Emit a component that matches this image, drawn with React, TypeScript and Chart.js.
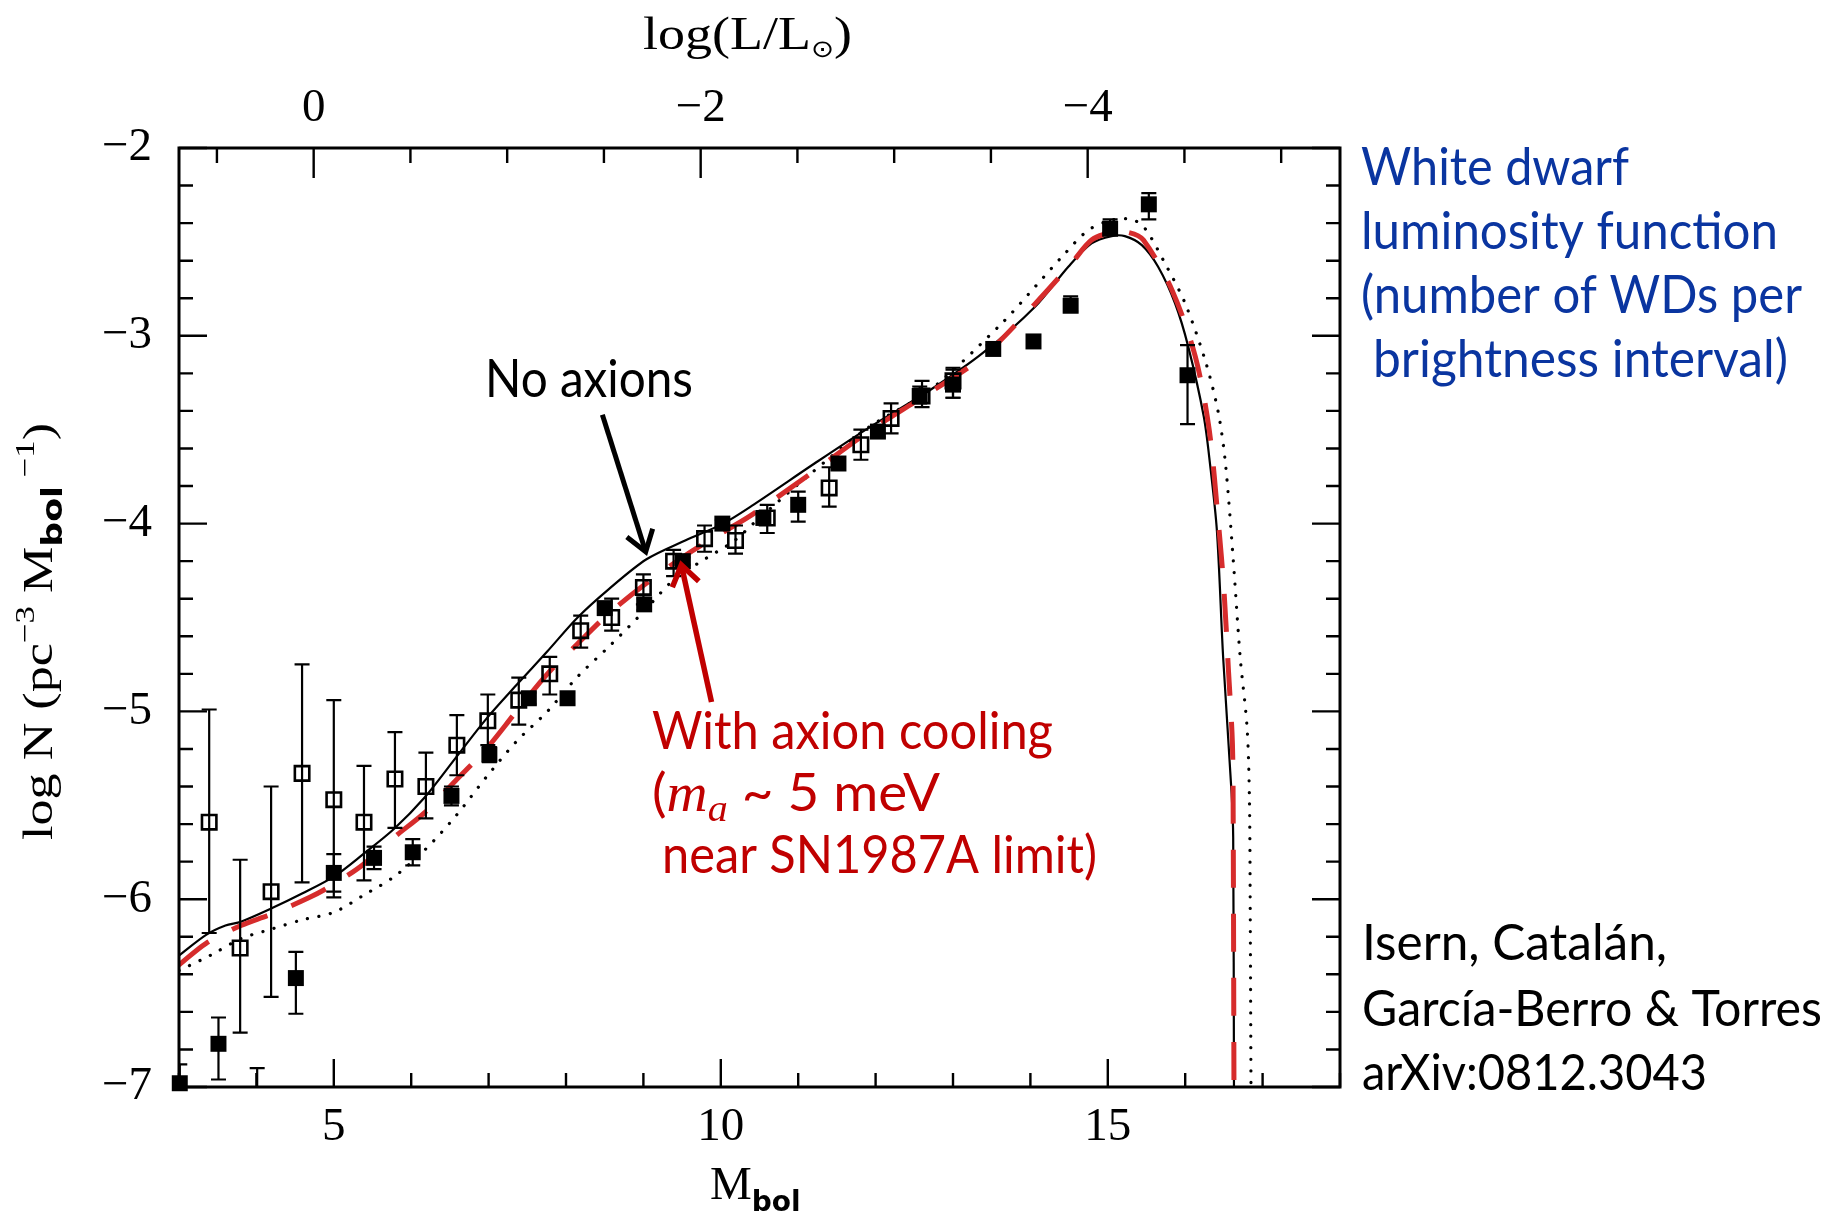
import React, { useEffect, useRef } from 'react';
import { Chart, registerables } from 'chart.js';

Chart.register(...registerables);

// ---------------- data ----------------
// Filled squares (observed WDLF)
const filledM = [3.01, 3.51, 4.01, 4.51, 5.0, 5.52, 6.02, 6.52, 7.01, 7.52, 8.02, 8.5, 9.01, 9.51, 10.02, 10.55, 11.0, 11.52, 12.03, 12.57, 13.0, 13.52, 14.04, 14.52, 15.03, 15.53, 16.03];
const filledLogN = [-6.98, -6.77, -7.15, -6.42, -5.86, -5.78, -5.75, -5.45, -5.23, -4.93, -4.93, -4.45, -4.43, -4.2, -4.0, -3.97, -3.9, -3.68, -3.51, -3.32, -3.26, -3.07, -3.03, -2.84, -2.43, -2.3, -3.21];
const filledErrHi = [-6.88, -6.63, -6.9, -6.28, -5.76, -5.72, -5.68, -5.4, -5.19, -4.9, -4.9, -4.42, -4.4, -4.18, -3.98, -3.95, -3.83, -3.65, -3.48, -3.27, -3.18, -3.05, -3.01, -2.79, -2.38, -2.24, -3.05];
const filledErrLo = [-7.08, -6.96, -7.4, -6.61, -5.96, -5.84, -5.82, -5.5, -5.27, -4.96, -4.96, -4.48, -4.46, -4.22, -4.02, -4.0, -3.99, -3.71, -3.54, -3.36, -3.33, -3.09, -3.05, -2.87, -2.45, -2.38, -3.47];

// Open squares
const openM = [3.39, 3.79, 4.19, 4.59, 5.0, 5.39, 5.79, 6.19, 6.59, 6.99, 7.39, 7.79, 8.19, 8.59, 9.0, 9.39, 9.79, 10.19, 10.6, 11.4, 11.81, 12.2, 12.6, 13.0];
const openLogN = [-5.59, -6.26, -5.96, -5.33, -5.47, -5.59, -5.36, -5.4, -5.18, -5.05, -4.94, -4.8, -4.57, -4.5, -4.34, -4.2, -4.08, -4.09, -3.97, -3.81, -3.58, -3.44, -3.32, -3.24];
const openErrHi = [-4.99, -5.79, -5.4, -4.75, -4.94, -5.29, -5.11, -5.22, -5.02, -4.91, -4.82, -4.71, -4.49, -4.4, -4.27, -4.14, -4.01, -4.01, -3.9, -3.7, -3.5, -3.36, -3.24, -3.17];
const openErrLo = [-6.18, -6.71, -6.52, -5.91, -5.99, -5.9, -5.62, -5.57, -5.34, -5.18, -5.07, -4.91, -4.66, -4.57, -4.43, -4.28, -4.15, -4.16, -4.05, -3.91, -3.66, -3.52, -3.38, -3.33];

// Model: no axions (solid)
const noAxionM = [3.0, 3.35, 3.6, 3.8, 4.19, 4.59, 5.0, 5.38, 5.78, 6.17, 6.57, 6.97, 7.36, 7.76, 8.15, 8.55, 9.04, 9.54, 10.03, 10.42, 11.21, 11.91, 12.7, 13.39, 14.06, 14.49, 14.79, 15.05, 15.22, 15.44, 15.65, 15.87, 16.04, 16.24, 16.32, 16.41, 16.49, 16.6, 16.62, 16.63];
const noAxionLogN = [-6.3, -6.19, -6.14, -6.12, -6.05, -5.97, -5.88, -5.76, -5.625, -5.46, -5.25, -5.04, -4.86, -4.68, -4.5, -4.35, -4.19, -4.09, -4.0, -3.9, -3.68, -3.49, -3.29, -3.09, -2.845, -2.632, -2.508, -2.469, -2.469, -2.517, -2.632, -2.828, -3.059, -3.43, -3.68, -4.04, -4.71, -5.44, -5.67, -7.0];

// Model: with axion cooling (red dashed)
const axionM = [3.0, 3.35, 3.8, 4.19, 4.69, 5.0, 5.38, 5.78, 6.17, 6.57, 6.97, 7.36, 7.76, 8.15, 8.55, 9.0, 9.54, 10.03, 10.42, 11.16, 11.91, 12.65, 13.39, 14.06, 14.53, 14.79, 15.05, 15.27, 15.46, 15.83, 16.13, 16.31, 16.43, 16.5, 16.56, 16.61, 16.62, 16.63];
const axionLogN = [-6.35, -6.235, -6.14, -6.08, -5.99, -5.92, -5.815, -5.67, -5.54, -5.37, -5.2, -5.0, -4.8, -4.64, -4.48, -4.33, -4.17, -4.046, -3.948, -3.734, -3.51, -3.315, -3.11, -2.83, -2.615, -2.49, -2.45, -2.45, -2.49, -2.757, -3.11, -3.5, -4.0, -4.35, -4.79, -5.17, -5.57, -7.0];

// Model: dotted
const dottedM = [3.0, 3.4, 3.8, 4.19, 4.59, 5.0, 5.38, 5.78, 6.17, 6.57, 6.97, 7.36, 7.76, 8.15, 8.55, 9.0, 9.39, 9.79, 10.18, 10.42, 11.11, 11.9, 12.7, 13.63, 14.06, 14.45, 14.75, 15.05, 15.31, 15.48, 15.74, 16.0, 16.27, 16.43, 16.52, 16.62, 16.71, 16.8, 16.83, 16.84, 16.85];
const dottedLogN = [-6.38, -6.3, -6.21, -6.16, -6.11, -6.07, -5.98, -5.88, -5.74, -5.56, -5.35, -5.16, -5.0, -4.815, -4.657, -4.47, -4.3, -4.19, -4.09, -4.0, -3.752, -3.49, -3.29, -2.934, -2.739, -2.56, -2.437, -2.384, -2.38, -2.428, -2.615, -2.828, -3.147, -3.414, -3.68, -4.19, -4.71, -5.09, -5.47, -6.05, -7.0];

// Axes ticks
const bottomTickValues = [3, 4, 5, 6, 7, 8, 9, 10, 11, 12, 13, 14, 15, 16, 17, 18];
const bottomLabelValues = [5, 10, 15];
const topTickLogL = [0.5, 0, -0.5, -1, -1.5, -2, -2.5, -3, -3.5, -4, -4.5, -5];
const topLabelLogL = [0, -2, -4];
const yTickValues = [-7, -6.8, -6.6, -6.4, -6.2, -6, -5.8, -5.6, -5.4, -5.2, -5, -4.8, -4.6, -4.4, -4.2, -4, -3.8, -3.6, -3.4, -3.2, -3, -2.8, -2.6, -2.4, -2.2, -2];
const yLabelValues = [-7, -6, -5, -4, -3, -2];
const MBOL_SUN = 4.74;

// ---------------- layout / style ----------------
const W = 1843;
const H = 1214;
const PLOT_LEFT = 179;
const PLOT_RIGHT = 1340;
const PLOT_TOP = 148;
const PLOT_BOTTOM = 1087;

const SERIF = '"Liberation Serif", "DejaVu Serif", serif';
const SANS = 'Lato, "Open Sans", "Noto Sans", sans-serif';
const RED_TEXT = '#c00000';
const BLUE_TEXT = '#0a35a0';
const RED_LINE = 'rgb(214, 44, 44)';

const fmt = (v: number) => {
  const r = Math.round(v * 100) / 100;
  if (Math.abs(r) < 1e-9) return '0';
  return r < 0 ? '\u2212' + String(Math.abs(r)) : String(r);
};
const near = (a: number, b: number) => Math.abs(a - b) < 1e-6;
const pts = (xs: number[], ys: number[]) => xs.map((x, i) => ({ x, y: ys[i] }));

type Seg = { t: string; font: string; dy?: number };

function drawSegs(ctx: CanvasRenderingContext2D, segs: Seg[], x: number, y: number, color: string, width?: number) {
  ctx.save();
  ctx.fillStyle = color;
  ctx.textBaseline = 'alphabetic';
  ctx.textAlign = 'left';
  let total = 0;
  const ws = segs.map((s) => {
    ctx.font = s.font;
    const w = ctx.measureText(s.t).width;
    total += w;
    return w;
  });
  const k = width ? width / total : 1;
  ctx.translate(x, y);
  ctx.scale(k, 1);
  let cx = 0;
  segs.forEach((s, i) => {
    ctx.font = s.font;
    ctx.fillText(s.t, cx, s.dy || 0);
    cx += ws[i];
  });
  ctx.restore();
  return total * k;
}

function arrow(ctx: CanvasRenderingContext2D, x1: number, y1: number, x2: number, y2: number, color: string, lw: number, head: number) {
  const a = Math.atan2(y2 - y1, x2 - x1);
  ctx.save();
  ctx.strokeStyle = color;
  ctx.lineWidth = lw;
  ctx.lineCap = 'butt';
  ctx.beginPath();
  ctx.moveTo(x1, y1);
  ctx.lineTo(x2 - Math.cos(a) * lw * 0.8, y2 - Math.sin(a) * lw * 0.8);
  ctx.stroke();
  ctx.lineJoin = 'miter';
  ctx.beginPath();
  ctx.moveTo(x2 - head * Math.cos(a - 0.6), y2 - head * Math.sin(a - 0.6));
  ctx.lineTo(x2, y2);
  ctx.lineTo(x2 - head * Math.cos(a + 0.6), y2 - head * Math.sin(a + 0.6));
  ctx.stroke();
  ctx.restore();
}

const errorBarPlugin = {
  id: 'errorBars',
  afterDatasetsDraw(chart: any) {
    const { ctx, chartArea } = chart;
    const xs = chart.scales.x;
    const ys = chart.scales.y;
    ctx.save();
    ctx.beginPath();
    ctx.rect(chartArea.left, chartArea.top, chartArea.right - chartArea.left, chartArea.bottom - chartArea.top);
    ctx.clip();
    ctx.strokeStyle = '#000';
    ctx.lineWidth = 2.2;
    chart.data.datasets.forEach((ds: any) => {
      const hi = ds.errHi;
      const lo = ds.errLo;
      if (!hi || !lo) return;
      ds.data.forEach((p: any, i: number) => {
        const px = xs.getPixelForValue(p.x);
        const ph = ys.getPixelForValue(hi[i]);
        const pl = ys.getPixelForValue(lo[i]);
        const cap = 7.5;
        ctx.beginPath();
        ctx.moveTo(px, ph);
        ctx.lineTo(px, pl);
        ctx.moveTo(px - cap, ph);
        ctx.lineTo(px + cap, ph);
        ctx.moveTo(px - cap, pl);
        ctx.lineTo(px + cap, pl);
        ctx.stroke();
      });
    });
    ctx.restore();
  },
};

const framePlugin = {
  id: 'frameTicks',
  afterDraw(chart: any) {
    const { ctx, chartArea } = chart;
    const { left, right, top, bottom } = chartArea;
    const s = chart.scales;
    ctx.save();
    ctx.strokeStyle = '#000';
    ctx.lineWidth = 2.4;
    ctx.beginPath();
    s.x.ticks.forEach((t: any) => {
      const px = s.x.getPixelForValue(t.value);
      const len = bottomLabelValues.some((v) => near(v, t.value)) ? 28 : 14;
      ctx.moveTo(px, bottom);
      ctx.lineTo(px, bottom - len);
    });
    s.x2.ticks.forEach((t: any) => {
      const px = s.x2.getPixelForValue(t.value);
      const L = (MBOL_SUN - t.value) / 2.5;
      const len = topLabelLogL.some((v) => near(v, L)) ? 30 : 15;
      ctx.moveTo(px, top);
      ctx.lineTo(px, top + len);
    });
    s.y.ticks.forEach((t: any) => {
      const py = s.y.getPixelForValue(t.value);
      const len = yLabelValues.some((v) => near(v, t.value)) ? 28 : 14;
      ctx.moveTo(left, py);
      ctx.lineTo(left + len, py);
    });
    s.y2.ticks.forEach((t: any) => {
      const py = s.y2.getPixelForValue(t.value);
      const len = yLabelValues.some((v) => near(v, t.value)) ? 28 : 14;
      ctx.moveTo(right, py);
      ctx.lineTo(right - len, py);
    });
    ctx.stroke();
    ctx.lineWidth = 3;
    ctx.strokeRect(left, top, right - left, bottom - top);
    ctx.restore();
  },
};

const annotationPlugin = {
  id: 'annotations',
  afterDraw(chart: any) {
    const { ctx } = chart;
    const xs = chart.scales.x;
    const ys = chart.scales.y;

    const bolFont = 'bold 28px "DejaVu Sans", sans-serif';
    // y title (rotated)
    ctx.save();
    ctx.translate(52, 632);
    ctx.rotate(-Math.PI / 2);
    const ySegs: Seg[] = [
      { t: 'log N (pc', font: `42px ${SERIF}` },
      { t: '\u22123', font: `28px ${SERIF}`, dy: -18 },
      { t: ' M', font: `42px ${SERIF}` },
      { t: 'bol', font: bolFont, dy: 10 },
      { t: ' \u22121', font: `28px ${SERIF}`, dy: -18 },
      { t: ')', font: `42px ${SERIF}` },
    ];
    drawSegs(ctx, ySegs, -208, 0, '#000', 417);
    ctx.restore();

    // x title
    drawSegs(ctx, [
      { t: 'M', font: `47px ${SERIF}` },
      { t: 'bol', font: bolFont, dy: 12 },
    ], 710, 1199, '#000');

    // top title
    drawSegs(ctx, [
      { t: 'log(L/L', font: `47px ${SERIF}` },
      { t: '\u2299', font: `24px "DejaVu Sans", sans-serif`, dy: 8 },
      { t: ')', font: `47px ${SERIF}` },
    ], 643, 49, '#000', 209);

    // arrows
    arrow(ctx, xs.getPixelForValue(8.47), ys.getPixelForValue(-3.42), xs.getPixelForValue(9.03), ys.getPixelForValue(-4.15), '#000', 5, 24);
    arrow(ctx, xs.getPixelForValue(9.88), ys.getPixelForValue(-4.95), xs.getPixelForValue(9.49), ys.getPixelForValue(-4.22), RED_TEXT, 5.5, 24);

    const f52 = `52px ${SANS}`;
    drawSegs(ctx, [{ t: 'No axions', font: f52 }], 485, 397, '#000', 208);

    drawSegs(ctx, [{ t: 'With axion cooling', font: f52 }], 652, 749, RED_TEXT, 401);
    drawSegs(ctx, [
      { t: '(', font: f52 },
      { t: 'm', font: `italic 54px ${SERIF}` },
      { t: 'a', font: `italic 38px ${SERIF}`, dy: 10 },
      { t: ' ~ 5 meV', font: f52 },
    ], 652, 811, RED_TEXT, 288);
    drawSegs(ctx, [{ t: 'near SN1987A limit)', font: f52 }], 662, 873, RED_TEXT, 435);

    drawSegs(ctx, [{ t: 'White dwarf', font: f52 }], 1361, 185, BLUE_TEXT, 268);
    drawSegs(ctx, [{ t: 'luminosity function', font: f52 }], 1361, 249, BLUE_TEXT, 417);
    drawSegs(ctx, [{ t: '(number of WDs per', font: f52 }], 1361, 313, BLUE_TEXT, 441);
    drawSegs(ctx, [{ t: 'brightness interval)', font: f52 }], 1373, 377, BLUE_TEXT, 415);

    const f50 = `50px ${SANS}`;
    drawSegs(ctx, [{ t: 'Isern, Catalán,', font: f50 }], 1362, 960, '#000', 305);
    drawSegs(ctx, [{ t: 'García-Berro & Torres', font: f50 }], 1362, 1026, '#000', 460);
    drawSegs(ctx, [{ t: 'arXiv:0812.3043', font: f50 }], 1362, 1090, '#000', 345);
  },
};

export default function App() {
  const ref = useRef<HTMLCanvasElement>(null);

  useEffect(() => {
    const canvas = ref.current;
    if (!canvas) return;
    const tickFont = { family: SERIF, size: 47 };
    const chart = new Chart(canvas, {
      type: 'scatter',
      data: {
        datasets: [
          {
            label: 'Observed (filled)',
            data: pts(filledM, filledLogN),
            showLine: false,
            pointStyle: 'rect',
            pointRadius: 11.3,
            backgroundColor: '#000',
            borderColor: '#000',
            borderWidth: 0,
            clip: 10,
            errHi: filledErrHi,
            errLo: filledErrLo,
          } as any,
          {
            label: 'Observed (open)',
            data: pts(openM, openLogN),
            showLine: false,
            pointStyle: 'rect',
            pointRadius: 10.2,
            backgroundColor: 'rgba(0,0,0,0)',
            borderColor: '#000',
            borderWidth: 2.6,
            clip: 10,
            errHi: openErrHi,
            errLo: openErrLo,
          } as any,
          {
            type: 'line',
            label: 'With axion cooling',
            data: pts(axionM, axionLogN),
            borderColor: RED_LINE,
            borderWidth: 5,
            borderDash: [38, 26],
            pointRadius: 0,
            tension: 0.3,
            fill: false,
          } as any,
          {
            type: 'line',
            label: 'No axions',
            data: pts(noAxionM, noAxionLogN),
            borderColor: '#000',
            borderWidth: 2.2,
            pointRadius: 0,
            tension: 0.3,
            fill: false,
          } as any,
          {
            type: 'line',
            label: 'Dotted model',
            data: pts(dottedM, dottedLogN),
            borderColor: '#000',
            borderWidth: 3.2,
            borderDash: [0.1, 11.5],
            borderCapStyle: 'round',
            pointRadius: 0,
            tension: 0.3,
            fill: false,
          } as any,
        ],
      },
      options: {
        responsive: false,
        animation: false,
        devicePixelRatio: 1,
        events: [],
        layout: { padding: 0 },
        plugins: {
          legend: { display: false },
          tooltip: { enabled: false },
        },
        scales: {
          x: {
            type: 'linear',
            position: 'bottom',
            min: 3,
            max: 18,
            afterBuildTicks: (scale: any) => {
              scale.ticks = bottomTickValues.map((v) => ({ value: v }));
            },
            afterFit: (scale: any) => {
              scale.height = H - PLOT_BOTTOM;
            },
            ticks: {
              autoSkip: false,
              maxRotation: 0,
              padding: 12,
              color: '#000',
              font: tickFont,
              callback: (v: any) => (bottomLabelValues.some((b) => near(b, Number(v))) ? fmt(Number(v)) : ''),
            },
            grid: { display: false, drawTicks: false },
            border: { display: false },
          },
          x2: {
            type: 'linear',
            axis: 'x',
            position: 'top',
            min: 3,
            max: 18,
            afterBuildTicks: (scale: any) => {
              scale.ticks = topTickLogL.map((L) => ({ value: MBOL_SUN - 2.5 * L }));
            },
            afterFit: (scale: any) => {
              scale.height = PLOT_TOP;
            },
            ticks: {
              autoSkip: false,
              maxRotation: 0,
              padding: 11,
              color: '#000',
              font: tickFont,
              callback: (v: any) => {
                const L = (MBOL_SUN - Number(v)) / 2.5;
                return topLabelLogL.some((t) => near(t, L)) ? fmt(L) : '';
              },
            },
            grid: { display: false, drawTicks: false },
            border: { display: false },
          },
          y: {
            type: 'linear',
            position: 'left',
            min: -7,
            max: -2,
            afterBuildTicks: (scale: any) => {
              scale.ticks = yTickValues.map((v) => ({ value: v }));
            },
            afterFit: (scale: any) => {
              scale.width = PLOT_LEFT;
            },
            ticks: {
              autoSkip: false,
              padding: 27,
              color: '#000',
              font: tickFont,
              callback: (v: any) => (yLabelValues.some((b) => near(b, Number(v))) ? fmt(Number(v)) : ''),
            },
            grid: { display: false, drawTicks: false },
            border: { display: false },
          },
          y2: {
            type: 'linear',
            axis: 'y',
            position: 'right',
            min: -7,
            max: -2,
            afterBuildTicks: (scale: any) => {
              scale.ticks = yTickValues.map((v) => ({ value: v }));
            },
            afterFit: (scale: any) => {
              scale.width = W - PLOT_RIGHT;
            },
            ticks: {
              autoSkip: false,
              color: '#000',
              font: tickFont,
              callback: () => '',
            },
            grid: { display: false, drawTicks: false },
            border: { display: false },
          },
        },
      } as any,
      plugins: [errorBarPlugin, framePlugin, annotationPlugin],
    });
    return () => chart.destroy();
  }, []);

  return (
    <div style={{ position: 'absolute', left: 0, top: 0, width: W, height: H, background: '#fff', overflow: 'hidden' }}>
      <canvas ref={ref} width={W} height={H} style={{ display: 'block', width: W, height: H }} />
    </div>
  );
}
